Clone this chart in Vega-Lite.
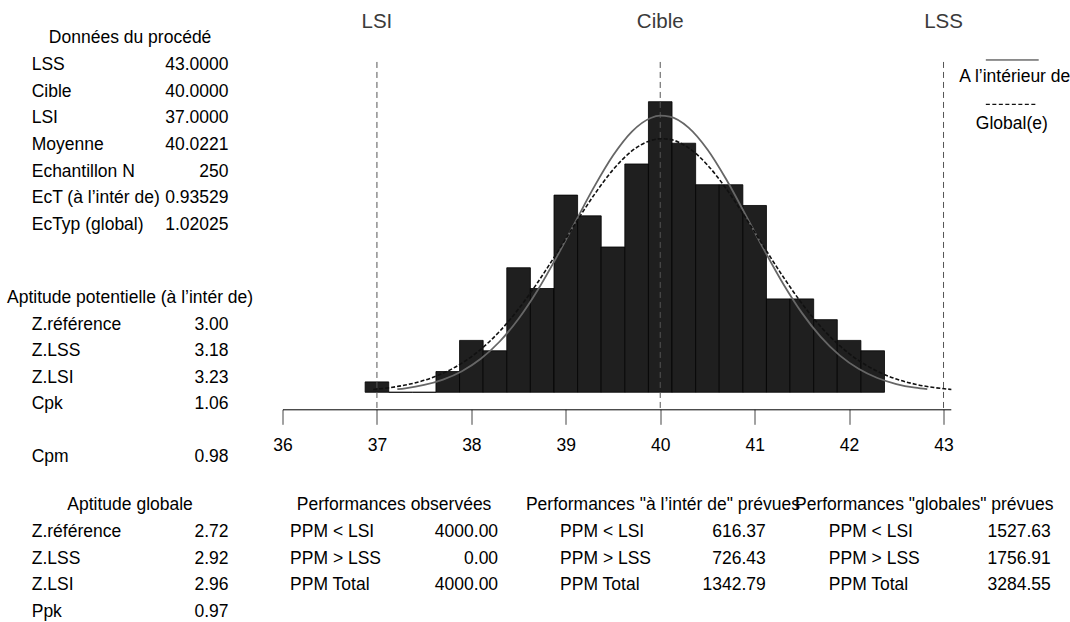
{
  "$schema": "https://vega.github.io/schema/vega-lite/v6.json",
  "autosize": {"type": "none"},
  "padding": {"left": 0, "top": 0, "right": 1070, "bottom": 622},
  "background": "white",
  "config": {
    "view": {"stroke": null},
    "font": "Liberation Sans",
    "text": {"font": "Liberation Sans", "fontSize": 17.5, "color": "#000"}
  },
  "datasets": {
    "bins": [
      {"start": 36.875, "end": 37.125, "count": 1},
      {"start": 37.125, "end": 37.375, "count": 0},
      {"start": 37.375, "end": 37.625, "count": 0},
      {"start": 37.625, "end": 37.875, "count": 2},
      {"start": 37.875, "end": 38.125, "count": 5},
      {"start": 38.125, "end": 38.375, "count": 4},
      {"start": 38.375, "end": 38.625, "count": 12},
      {"start": 38.625, "end": 38.875, "count": 10},
      {"start": 38.875, "end": 39.125, "count": 19},
      {"start": 39.125, "end": 39.375, "count": 17},
      {"start": 39.375, "end": 39.625, "count": 14},
      {"start": 39.625, "end": 39.875, "count": 22},
      {"start": 39.875, "end": 40.125, "count": 28},
      {"start": 40.125, "end": 40.375, "count": 24},
      {"start": 40.375, "end": 40.625, "count": 20},
      {"start": 40.625, "end": 40.875, "count": 20},
      {"start": 40.875, "end": 41.125, "count": 18},
      {"start": 41.125, "end": 41.375, "count": 9},
      {"start": 41.375, "end": 41.625, "count": 9},
      {"start": 41.625, "end": 41.875, "count": 7},
      {"start": 41.875, "end": 42.125, "count": 5},
      {"start": 42.125, "end": 42.375, "count": 4}
    ],
    "curves": [
      {"fit": "within", "x": 37.216, "count": 0.296},
      {"fit": "within", "x": 37.3, "count": 0.386},
      {"fit": "within", "x": 37.5, "count": 0.703},
      {"fit": "within", "x": 37.7, "count": 1.223},
      {"fit": "within", "x": 37.9, "count": 2.032},
      {"fit": "within", "x": 38.1, "count": 3.227},
      {"fit": "within", "x": 38.3, "count": 4.894},
      {"fit": "within", "x": 38.5, "count": 7.092},
      {"fit": "within", "x": 38.7, "count": 9.816},
      {"fit": "within", "x": 38.9, "count": 12.98},
      {"fit": "within", "x": 39.1, "count": 16.397},
      {"fit": "within", "x": 39.3, "count": 19.789},
      {"fit": "within", "x": 39.5, "count": 22.813},
      {"fit": "within", "x": 39.7, "count": 25.125},
      {"fit": "within", "x": 39.9, "count": 26.433},
      {"fit": "within", "x": 40.0, "count": 26.652},
      {"fit": "within", "x": 40.1, "count": 26.567},
      {"fit": "within", "x": 40.3, "count": 25.508},
      {"fit": "within", "x": 40.5, "count": 23.396},
      {"fit": "within", "x": 40.7, "count": 20.501},
      {"fit": "within", "x": 40.9, "count": 17.16},
      {"fit": "within", "x": 41.1, "count": 13.722},
      {"fit": "within", "x": 41.3, "count": 10.483},
      {"fit": "within", "x": 41.5, "count": 7.65},
      {"fit": "within", "x": 41.7, "count": 5.333},
      {"fit": "within", "x": 41.9, "count": 3.552},
      {"fit": "within", "x": 42.1, "count": 2.26},
      {"fit": "within", "x": 42.3, "count": 1.373},
      {"fit": "within", "x": 42.5, "count": 0.797},
      {"fit": "within", "x": 42.7, "count": 0.442},
      {"fit": "within", "x": 42.828, "count": 0.296},
      {"fit": "overall", "x": 36.961, "count": 0.272},
      {"fit": "overall", "x": 37.1, "count": 0.404},
      {"fit": "overall", "x": 37.3, "count": 0.696},
      {"fit": "overall", "x": 37.5, "count": 1.151},
      {"fit": "overall", "x": 37.7, "count": 1.833},
      {"fit": "overall", "x": 37.9, "count": 2.809},
      {"fit": "overall", "x": 38.1, "count": 4.143},
      {"fit": "overall", "x": 38.3, "count": 5.881},
      {"fit": "overall", "x": 38.5, "count": 8.031},
      {"fit": "overall", "x": 38.7, "count": 10.555},
      {"fit": "overall", "x": 38.9, "count": 13.348},
      {"fit": "overall", "x": 39.1, "count": 16.244},
      {"fit": "overall", "x": 39.3, "count": 19.025},
      {"fit": "overall", "x": 39.5, "count": 21.44},
      {"fit": "overall", "x": 39.7, "count": 23.252},
      {"fit": "overall", "x": 39.9, "count": 24.265},
      {"fit": "overall", "x": 40.0, "count": 24.433},
      {"fit": "overall", "x": 40.1, "count": 24.368},
      {"fit": "overall", "x": 40.3, "count": 23.549},
      {"fit": "overall", "x": 40.5, "count": 21.9},
      {"fit": "overall", "x": 40.7, "count": 19.598},
      {"fit": "overall", "x": 40.9, "count": 16.877},
      {"fit": "overall", "x": 41.1, "count": 13.986},
      {"fit": "overall", "x": 41.3, "count": 11.153},
      {"fit": "overall", "x": 41.5, "count": 8.559},
      {"fit": "overall", "x": 41.7, "count": 6.321},
      {"fit": "overall", "x": 41.9, "count": 4.492},
      {"fit": "overall", "x": 42.1, "count": 3.072},
      {"fit": "overall", "x": 42.3, "count": 2.021},
      {"fit": "overall", "x": 42.5, "count": 1.28},
      {"fit": "overall", "x": 42.7, "count": 0.78},
      {"fit": "overall", "x": 42.9, "count": 0.457},
      {"fit": "overall", "x": 43.083, "count": 0.272}
    ],
    "limits": [
      {"name": "LSI", "value": 37},
      {"name": "Cible", "value": 40},
      {"name": "LSS", "value": 43}
    ],
    "legend": [
      {"fit": "within", "series": "A l’intérieur de"},
      {"fit": "overall", "series": "Global(e)"}
    ],
    "tables": [
      {"table": "donnees", "kind": "header", "label": "Données du procédé", "value": ""},
      {"table": "donnees", "kind": "row", "label": "LSS", "value": "43.0000"},
      {"table": "donnees", "kind": "row", "label": "Cible", "value": "40.0000"},
      {"table": "donnees", "kind": "row", "label": "LSI", "value": "37.0000"},
      {"table": "donnees", "kind": "row", "label": "Moyenne", "value": "40.0221"},
      {"table": "donnees", "kind": "row", "label": "Echantillon N", "value": "250"},
      {"table": "donnees", "kind": "row", "label": "EcT (à l’intér de)", "value": "0.93529"},
      {"table": "donnees", "kind": "row", "label": "EcTyp (global)", "value": "1.02025"},
      {"table": "potentielle", "kind": "header", "label": "Aptitude potentielle (à l’intér de)", "value": ""},
      {"table": "potentielle", "kind": "row", "label": "Z.référence", "value": "3.00"},
      {"table": "potentielle", "kind": "row", "label": "Z.LSS", "value": "3.18"},
      {"table": "potentielle", "kind": "row", "label": "Z.LSI", "value": "3.23"},
      {"table": "potentielle", "kind": "row", "label": "Cpk", "value": "1.06"},
      {"table": "cpm", "kind": "row", "label": "Cpm", "value": "0.98"},
      {"table": "globale", "kind": "header", "label": "Aptitude globale", "value": ""},
      {"table": "globale", "kind": "row", "label": "Z.référence", "value": "2.72"},
      {"table": "globale", "kind": "row", "label": "Z.LSS", "value": "2.92"},
      {"table": "globale", "kind": "row", "label": "Z.LSI", "value": "2.96"},
      {"table": "globale", "kind": "row", "label": "Ppk", "value": "0.97"},
      {"table": "observees", "kind": "header", "label": "Performances observées", "value": ""},
      {"table": "observees", "kind": "row", "label": "PPM < LSI", "value": "4000.00"},
      {"table": "observees", "kind": "row", "label": "PPM > LSS", "value": "0.00"},
      {"table": "observees", "kind": "row", "label": "PPM Total", "value": "4000.00"},
      {"table": "intra", "kind": "header", "label": "Performances \"à l’intér de\" prévues", "value": ""},
      {"table": "intra", "kind": "row", "label": "PPM < LSI", "value": "616.37"},
      {"table": "intra", "kind": "row", "label": "PPM > LSS", "value": "726.43"},
      {"table": "intra", "kind": "row", "label": "PPM Total", "value": "1342.79"},
      {"table": "globales", "kind": "header", "label": "Performances \"globales\" prévues", "value": ""},
      {"table": "globales", "kind": "row", "label": "PPM < LSI", "value": "1527.63"},
      {"table": "globales", "kind": "row", "label": "PPM > LSS", "value": "1756.91"},
      {"table": "globales", "kind": "row", "label": "PPM Total", "value": "3284.55"}
    ]
  },
  "concat": [
    {
      "width": 260.2,
      "height": 466.7,
      "resolve": {"scale": {"y": "independent"}},
      "layer": [
        {
          "data": {"name": "tables"},
          "transform": [{"filter": "datum.table === 'donnees'"}, {"window": [{"op": "row_number", "as": "row"}]}],
          "encoding": {"y": {"field": "row", "type": "quantitative", "axis": null, "scale": {"domain": [-0.4361, 17.063], "reverse": true, "nice": false, "zero": false}}},
          "layer": [
            {"mark": {"type": "text", "align": "center"}, "encoding": {"x": {"datum": 0.5, "type": "quantitative", "axis": null, "scale": {"domain": [-0.1611, 1.1611], "nice": false, "zero": false}}, "text": {"condition": {"test": "datum.kind === 'header'", "field": "label", "type": "nominal"}, "value": ""}}},
            {"mark": {"type": "text", "align": "left"}, "encoding": {"x": {"datum": 0, "type": "quantitative", "axis": null, "scale": {"domain": [-0.1611, 1.1611], "nice": false, "zero": false}}, "text": {"condition": {"test": "datum.kind === 'row'", "field": "label", "type": "nominal"}, "value": ""}}},
            {"mark": {"type": "text", "align": "right"}, "encoding": {"x": {"datum": 1, "type": "quantitative", "axis": null, "scale": {"domain": [-0.1611, 1.1611], "nice": false, "zero": false}}, "text": {"field": "value", "type": "nominal"}}}
          ]
        },
        {
          "data": {"name": "tables"},
          "transform": [{"filter": "datum.table === 'potentielle'"}, {"window": [{"op": "row_number", "as": "row"}]}],
          "encoding": {"y": {"field": "row", "type": "quantitative", "axis": null, "scale": {"domain": [-10.2886, 7.3724], "reverse": true, "nice": false, "zero": false}}},
          "layer": [
            {"mark": {"type": "text", "align": "center"}, "encoding": {"x": {"datum": 0.5, "type": "quantitative", "axis": null, "scale": {"domain": [-0.1611, 1.1611], "nice": false, "zero": false}}, "text": {"condition": {"test": "datum.kind === 'header'", "field": "label", "type": "nominal"}, "value": ""}}},
            {"mark": {"type": "text", "align": "left"}, "encoding": {"x": {"datum": 0, "type": "quantitative", "axis": null, "scale": {"domain": [-0.1611, 1.1611], "nice": false, "zero": false}}, "text": {"condition": {"test": "datum.kind === 'row'", "field": "label", "type": "nominal"}, "value": ""}}},
            {"mark": {"type": "text", "align": "right"}, "encoding": {"x": {"datum": 1, "type": "quantitative", "axis": null, "scale": {"domain": [-0.1611, 1.1611], "nice": false, "zero": false}}, "text": {"field": "value", "type": "nominal"}}}
          ]
        },
        {
          "data": {"name": "tables"},
          "transform": [{"filter": "datum.table === 'cpm'"}, {"window": [{"op": "row_number", "as": "row"}]}],
          "encoding": {"y": {"field": "row", "type": "quantitative", "axis": null, "scale": {"domain": [-16.124, 1.375], "reverse": true, "nice": false, "zero": false}}},
          "layer": [
            {"mark": {"type": "text", "align": "left"}, "encoding": {"x": {"datum": 0, "type": "quantitative", "axis": null, "scale": {"domain": [-0.1611, 1.1611], "nice": false, "zero": false}}, "text": {"field": "label", "type": "nominal"}}},
            {"mark": {"type": "text", "align": "right"}, "encoding": {"x": {"datum": 1, "type": "quantitative", "axis": null, "scale": {"domain": [-0.1611, 1.1611], "nice": false, "zero": false}}, "text": {"field": "value", "type": "nominal"}}}
          ]
        }
      ]
    },
    {
      "width": 668.3,
      "height": 409.3,
      "layer": [
        {
          "data": {"name": "bins"},
          "mark": {"type": "bar", "fill": "#1f1f1f", "stroke": "#000", "strokeWidth": 0.8},
          "encoding": {
            "x": {"field": "start", "type": "quantitative", "scale": {"domain": [36, 43.077], "nice": false, "zero": false},
              "axis": {"title": null, "values": [36, 37, 38, 39, 40, 41, 42, 43], "format": "d", "grid": false, "tickSize": 15, "tickColor": "#444", "tickWidth": 1, "domainColor": "#000", "domainWidth": 1, "labelFont": "Liberation Sans", "labelFontSize": 17.5, "labelColor": "#000", "labelPadding": 12, "labelFlush": false, "labelOverlap": false}},
            "x2": {"field": "end"},
            "y": {"field": "count", "type": "quantitative", "scale": {"domain": [-1.64, 37.8], "nice": false, "zero": false}, "axis": null},
            "y2": {"datum": 0}
          }
        },
        {
          "data": {"name": "limits"},
          "mark": {"type": "rule", "strokeDash": [6, 4], "color": "#555", "strokeWidth": 1},
          "encoding": {
            "x": {"field": "value", "type": "quantitative"},
            "y": {"datum": 31.83, "axis": null},
            "y2": {"datum": -1.64}
          }
        },
        {
          "data": {"name": "curves"},
          "transform": [{"filter": "datum.fit === 'within'"}],
          "mark": {"type": "line", "color": "#666", "strokeWidth": 1.8, "interpolate": "monotone"},
          "encoding": {
            "x": {"field": "x", "type": "quantitative"},
            "y": {"field": "count", "type": "quantitative", "axis": null}
          }
        },
        {
          "data": {"name": "curves"},
          "transform": [{"filter": "datum.fit === 'overall'"}],
          "mark": {"type": "line", "color": "#111", "strokeWidth": 1.6, "strokeDash": [4, 2], "interpolate": "monotone"},
          "encoding": {
            "x": {"field": "x", "type": "quantitative"},
            "y": {"field": "count", "type": "quantitative", "axis": null}
          }
        },
        {
          "data": {"name": "limits"},
          "mark": {"type": "text", "fontSize": 20.5, "color": "#3a3a3a"},
          "encoding": {
            "x": {"field": "value", "type": "quantitative"},
            "y": {"datum": 35.68, "axis": null},
            "text": {"field": "name", "type": "nominal"}
          }
        },
        {
          "data": {"name": "legend"},
          "transform": [{"filter": "datum.fit === 'within'"}],
          "mark": {"type": "rule", "color": "#222", "strokeWidth": 1},
          "encoding": {
            "x": {"datum": 43.448},
            "x2": {"datum": 44.008},
            "y": {"datum": 32.02, "axis": null}
          }
        },
        {
          "data": {"name": "legend"},
          "transform": [{"filter": "datum.fit === 'overall'"}],
          "mark": {"type": "rule", "color": "#111", "strokeWidth": 1.3, "strokeDash": [4, 2.5]},
          "encoding": {
            "x": {"datum": 43.448},
            "x2": {"datum": 43.995},
            "y": {"datum": 27.75, "axis": null}
          }
        },
        {
          "data": {"name": "legend"},
          "transform": [{"filter": "datum.fit === 'within'"}],
          "mark": {"type": "text"},
          "encoding": {
            "x": {"datum": 43.755},
            "y": {"datum": 30.38, "axis": null},
            "text": {"field": "series", "type": "nominal"}
          }
        },
        {
          "data": {"name": "legend"},
          "transform": [{"filter": "datum.fit === 'overall'"}],
          "mark": {"type": "text"},
          "encoding": {
            "x": {"datum": 43.723},
            "y": {"datum": 25.85, "axis": null},
            "text": {"field": "series", "type": "nominal"}
          }
        }
      ]
    },
    {
      "width": 260.2,
      "height": 155.3,
      "data": {"name": "tables"},
      "transform": [{"filter": "datum.table === 'globale'"}, {"window": [{"op": "row_number", "as": "row"}]}],
      "encoding": {"y": {"field": "row", "type": "quantitative", "axis": null, "scale": {"domain": [-0.4361, 5.387], "reverse": true, "nice": false, "zero": false}}},
      "layer": [
        {"mark": {"type": "text", "align": "center"}, "encoding": {"x": {"datum": 0.5, "type": "quantitative", "axis": null, "scale": {"domain": [-0.1611, 1.1611], "nice": false, "zero": false}}, "text": {"condition": {"test": "datum.kind === 'header'", "field": "label", "type": "nominal"}, "value": ""}}},
        {"mark": {"type": "text", "align": "left"}, "encoding": {"x": {"datum": 0, "type": "quantitative", "axis": null, "scale": {"domain": [-0.1611, 1.1611], "nice": false, "zero": false}}, "text": {"condition": {"test": "datum.kind === 'row'", "field": "label", "type": "nominal"}, "value": ""}}},
        {"mark": {"type": "text", "align": "right"}, "encoding": {"x": {"datum": 1, "type": "quantitative", "axis": null, "scale": {"domain": [-0.1611, 1.1611], "nice": false, "zero": false}}, "text": {"field": "value", "type": "nominal"}}}
      ]
    },
    {
      "width": 788.3,
      "height": 155.3,
      "resolve": {"scale": {"x": "independent", "y": "independent"}},
      "layer": [
        {
          "data": {"name": "tables"},
          "transform": [{"filter": "datum.table === 'observees'"}, {"window": [{"op": "row_number", "as": "row"}]}],
          "encoding": {"y": {"field": "row", "type": "quantitative", "axis": null, "scale": {"domain": [-0.4361, 5.387], "reverse": true, "nice": false, "zero": false}}},
          "layer": [
            {"mark": {"type": "text", "align": "center"}, "encoding": {"x": {"datum": 0.5, "type": "quantitative", "axis": null, "scale": {"domain": [-0.03654, 3.75337], "nice": false, "zero": false}}, "text": {"condition": {"test": "datum.kind === 'header'", "field": "label", "type": "nominal"}, "value": ""}}},
            {"mark": {"type": "text", "align": "left"}, "encoding": {"x": {"datum": 0, "type": "quantitative", "axis": null, "scale": {"domain": [-0.03654, 3.75337], "nice": false, "zero": false}}, "text": {"condition": {"test": "datum.kind === 'row'", "field": "label", "type": "nominal"}, "value": ""}}},
            {"mark": {"type": "text", "align": "right"}, "encoding": {"x": {"datum": 1, "type": "quantitative", "axis": null, "scale": {"domain": [-0.03654, 3.75337], "nice": false, "zero": false}}, "text": {"field": "value", "type": "nominal"}}}
          ]
        },
        {
          "data": {"name": "tables"},
          "transform": [{"filter": "datum.table === 'intra'"}, {"window": [{"op": "row_number", "as": "row"}]}],
          "encoding": {"y": {"field": "row", "type": "quantitative", "axis": null, "scale": {"domain": [-0.4361, 5.387], "reverse": true, "nice": false, "zero": false}}},
          "layer": [
            {"mark": {"type": "text", "align": "center"}, "encoding": {"x": {"datum": 0.5, "type": "quantitative", "axis": null, "scale": {"domain": [-1.34954, 2.48274], "nice": false, "zero": false}}, "text": {"condition": {"test": "datum.kind === 'header'", "field": "label", "type": "nominal"}, "value": ""}}},
            {"mark": {"type": "text", "align": "left"}, "encoding": {"x": {"datum": 0, "type": "quantitative", "axis": null, "scale": {"domain": [-1.34954, 2.48274], "nice": false, "zero": false}}, "text": {"condition": {"test": "datum.kind === 'row'", "field": "label", "type": "nominal"}, "value": ""}}},
            {"mark": {"type": "text", "align": "right"}, "encoding": {"x": {"datum": 1, "type": "quantitative", "axis": null, "scale": {"domain": [-1.34954, 2.48274], "nice": false, "zero": false}}, "text": {"field": "value", "type": "nominal"}}}
          ]
        },
        {
          "data": {"name": "tables"},
          "transform": [{"filter": "datum.table === 'globales'"}, {"window": [{"op": "row_number", "as": "row"}]}],
          "encoding": {"y": {"field": "row", "type": "quantitative", "axis": null, "scale": {"domain": [-0.4361, 5.387], "reverse": true, "nice": false, "zero": false}}},
          "layer": [
            {"mark": {"type": "text", "align": "center"}, "encoding": {"x": {"datum": 0.43, "type": "quantitative", "axis": null, "scale": {"domain": [-2.46081, 1.09009], "nice": false, "zero": false}}, "text": {"condition": {"test": "datum.kind === 'header'", "field": "label", "type": "nominal"}, "value": ""}}},
            {"mark": {"type": "text", "align": "left"}, "encoding": {"x": {"datum": 0, "type": "quantitative", "axis": null, "scale": {"domain": [-2.46081, 1.09009], "nice": false, "zero": false}}, "text": {"condition": {"test": "datum.kind === 'row'", "field": "label", "type": "nominal"}, "value": ""}}},
            {"mark": {"type": "text", "align": "right"}, "encoding": {"x": {"datum": 1, "type": "quantitative", "axis": null, "scale": {"domain": [-2.46081, 1.09009], "nice": false, "zero": false}}, "text": {"field": "value", "type": "nominal"}}}
          ]
        }
      ]
    }
  ],
  "columns": 2,
  "align": "each",
  "bounds": "flush",
  "spacing": {"row": 0, "column": 21.5}
}
